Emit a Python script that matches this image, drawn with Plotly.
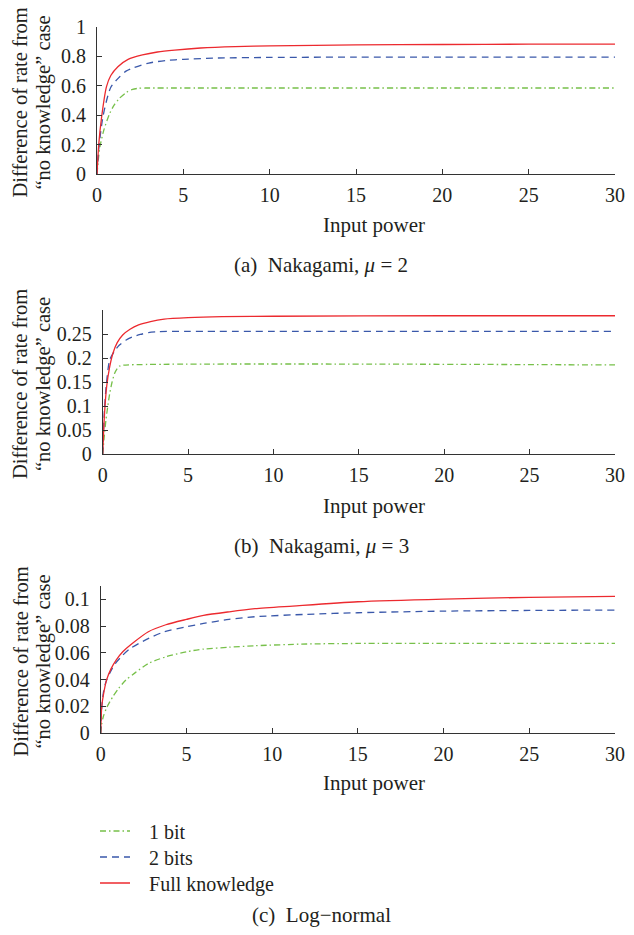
import plotly.graph_objects as go

# the page body adds an 8px margin on each side, so the figure is drawn smaller
OFF = 8
W, H = 634 - 2 * OFF, 935 - 2 * OFF

# ---------------- data ----------------
# Panel (a) Nakagami, mu = 2
a_full_x = [0, 0.1, 0.27, 0.55, 0.8, 1.21, 1.8, 2.63, 3.5, 4.5, 6, 8, 10, 15, 20, 25, 30]
a_full_y = [0, 0.2, 0.39, 0.594, 0.67, 0.73, 0.78, 0.81, 0.83, 0.843, 0.857, 0.867, 0.872, 0.878, 0.881, 0.883, 0.884]
a_2bit_x = [0, 0.1, 0.36, 0.8, 1.3, 1.68, 2.06, 3, 4, 5, 7, 10, 15, 20, 30]
a_2bit_y = [0, 0.17, 0.4, 0.59, 0.66, 0.7, 0.72, 0.755, 0.772, 0.78, 0.789, 0.793, 0.795, 0.795, 0.795]
a_1bit_x = [0, 0.08, 0.17, 0.4, 0.74, 1.0, 1.3, 1.7, 2.06, 2.4, 2.8, 4, 30]
a_1bit_y = [0, 0.1, 0.186, 0.3, 0.413, 0.47, 0.515, 0.555, 0.576, 0.583, 0.585, 0.585, 0.585]

# Panel (b) Nakagami, mu = 3
b_full_x = [0, 0.1, 0.23, 0.4, 0.6, 0.85, 1.17, 1.6, 2.1, 2.8, 3.6, 5, 7, 10, 20, 30]
b_full_y = [0, 0.08, 0.14, 0.18, 0.21, 0.232, 0.248, 0.26, 0.269, 0.276, 0.281, 0.284, 0.286, 0.287, 0.288, 0.288]
b_2bit_x = [0, 0.1, 0.2, 0.41, 0.7, 0.98, 1.35, 1.74, 2.2, 2.68, 3.3, 5, 30]
b_2bit_y = [0, 0.09, 0.14, 0.196, 0.215, 0.227, 0.237, 0.244, 0.249, 0.253, 0.255, 0.2555, 0.2555]
b_1bit_x = [0, 0.1, 0.19, 0.3, 0.41, 0.55, 0.7, 0.85, 0.98, 1.2, 30]
b_1bit_y = [0, 0.04, 0.071, 0.1, 0.126, 0.15, 0.168, 0.178, 0.183, 0.185, 0.1855]

# Panel (c) Log-normal
c_full_x = [0, 0.06, 0.15, 0.34, 0.6, 0.9, 1.3, 1.84, 2.78, 3.8, 5, 6, 7.5, 9, 11.2, 15, 20, 25, 30]
c_full_y = [0, 0.0197, 0.028, 0.0396, 0.048, 0.0546, 0.061, 0.067, 0.0758, 0.081, 0.085, 0.088, 0.0907, 0.093, 0.095, 0.0982, 0.1002, 0.1015, 0.1022]
c_2bit_x = [0, 0.05, 0.15, 0.3, 0.52, 0.85, 1.27, 1.7, 2.22, 3, 3.72, 5, 6, 7.48, 9, 12, 15, 20, 25, 30]
c_2bit_y = [0, 0.017, 0.0297, 0.038, 0.0446, 0.052, 0.058, 0.063, 0.067, 0.072, 0.0758, 0.0795, 0.082, 0.085, 0.087, 0.0888, 0.09, 0.0912, 0.0917, 0.092]
c_1bit_x = [0, 0.05, 0.15, 0.35, 0.71, 1.05, 1.47, 2, 2.78, 3.8, 5, 6, 7.5, 9, 12, 15, 20, 25, 30]
c_1bit_y = [0, 0.006, 0.0122, 0.019, 0.0272, 0.0335, 0.0396, 0.045, 0.052, 0.057, 0.0608, 0.0628, 0.0642, 0.0653, 0.0666, 0.067, 0.0671, 0.0671, 0.0671]

x_ticks = [0, 5, 10, 15, 20, 25, 30]
a_yticks = [0, 0.2, 0.4, 0.6, 0.8, 1]
a_yticklabels = ["0", "0.2", "0.4", "0.6", "0.8", "1"]
b_yticks = [0, 0.05, 0.1, 0.15, 0.2, 0.25]
b_yticklabels = ["0", "0.05", "0.1", "0.15", "0.2", "0.25"]
c_yticks = [0, 0.02, 0.04, 0.06, 0.08, 0.1]
c_yticklabels = ["0", "0.02", "0.04", "0.06", "0.08", "0.1"]

series_names = ["1 bit", "2 bits", "Full knowledge"]
y_title_lines = ["Difference of rate from", "\u201cno knowledge\u201d case"]
x_title = "Input power"
captions = ["(a)  Nakagami, <i>\u03bc</i> = 2", "(b)  Nakagami, <i>\u03bc</i> = 3", "(c)  Log\u2212normal"]

# ---------------- styles ----------------
GREEN, BLUE, RED = "#77c04a", "#3a58aa", "#ec2a2f"
FONT = "Liberation Serif"
TXT = "#231f20"

def px_x(p):
    return min((p - OFF) / W, 1.0)

def px_y(p):
    return 1 - (p - OFF) / H

fig = go.Figure()

panels = [
    dict(x=(a_1bit_x, a_2bit_x, a_full_x), y=(a_1bit_y, a_2bit_y, a_full_y),
         xd=(97, 615), yd=(174, 27), yr=[0, 1], yt=a_yticks, ytl=a_yticklabels),
    dict(x=(b_1bit_x, b_2bit_x, b_full_x), y=(b_1bit_y, b_2bit_y, b_full_y),
         xd=(102.7, 615), yd=(454, 310), yr=[0, 0.3], yt=b_yticks, ytl=b_yticklabels),
    dict(x=(c_1bit_x, c_2bit_x, c_full_x), y=(c_1bit_y, c_2bit_y, c_full_y),
         xd=(100.7, 615), yd=(733, 586), yr=[0, 0.11], yt=c_yticks, ytl=c_yticklabels),
]

styles = [
    dict(color=GREEN, dash="6px,3px,1.5px,3px"),
    dict(color=BLUE, dash="7px,5px"),
    dict(color=RED, dash="solid"),
]

annotations = []
caption_y = [265, 546, 915]
xtitle_y = [225, 506, 783]
legend_names = ["legend", "legend2", "legend3"]
legend_y = [831, 857, 883]

for i, p in enumerate(panels):
    k = "" if i == 0 else str(i + 1)
    for j in range(3):
        fig.add_trace(go.Scatter(
            x=p["x"][j], y=p["y"][j], mode="lines",
            name="\u2002\u2009" + series_names[j],
            line=dict(color=styles[j]["color"], dash=styles[j]["dash"], width=1.3,
                      shape="spline", smoothing=0.7),
            xaxis="x" + k, yaxis="y" + k,
            showlegend=(i == 2), legend=legend_names[j],
        ))
    axis_common = dict(showgrid=False, zeroline=False, showline=True, linecolor="#333333",
                       linewidth=1, ticks="inside", ticklen=5, tickcolor="#333333",
                       automargin=False, ticklabeloverflow="allow",
                       tickfont=dict(family=FONT, size=20, color=TXT))
    fig.layout["xaxis" + k] = dict(
        axis_common, domain=[px_x(p["xd"][0]), px_x(p["xd"][1])], range=[0, 30],
        tickvals=x_ticks, anchor="y" + k, ticklabelstandoff=3)
    fig.layout["yaxis" + k] = dict(
        axis_common, domain=[px_y(p["yd"][0]), px_y(p["yd"][1])], range=p["yr"],
        tickvals=p["yt"], ticktext=p["ytl"], anchor="x" + k, ticklabelstandoff=6)
    ymid = (p["yd"][0] + p["yd"][1]) / 2 + 2
    for line_text, lx in zip(y_title_lines, (20, 43)):
        annotations.append(dict(text=line_text, x=px_x(lx), y=px_y(ymid), xref="paper", yref="paper",
                                textangle=-90, showarrow=False, xanchor="center", yanchor="middle",
                                font=dict(family=FONT, size=20.5, color=TXT)))
    annotations.append(dict(text=x_title, x=px_x(374), y=px_y(xtitle_y[i]), xref="paper", yref="paper",
                            showarrow=False, xanchor="center", yanchor="middle",
                            font=dict(family=FONT, size=21, color=TXT)))
    annotations.append(dict(text=captions[i], x=px_x(321), y=px_y(caption_y[i]), xref="paper", yref="paper",
                            showarrow=False, xanchor="center", yanchor="middle",
                            font=dict(family=FONT, size=21, color=TXT)))

legend_common = dict(xanchor="left", yanchor="middle", bgcolor="rgba(0,0,0,0)", borderwidth=0,
                     font=dict(family=FONT, size=20, color=TXT))

fig.update_layout(
    width=W, height=H, margin=dict(l=0, r=0, t=0, b=0),
    paper_bgcolor="white", plot_bgcolor="white",
    annotations=annotations,
    showlegend=True,
    legend=dict(legend_common, x=px_x(95), y=px_y(legend_y[0])),
    legend2=dict(legend_common, x=px_x(95), y=px_y(legend_y[1])),
    legend3=dict(legend_common, x=px_x(95), y=px_y(legend_y[2])),
)

fig.write_html("out.html")
